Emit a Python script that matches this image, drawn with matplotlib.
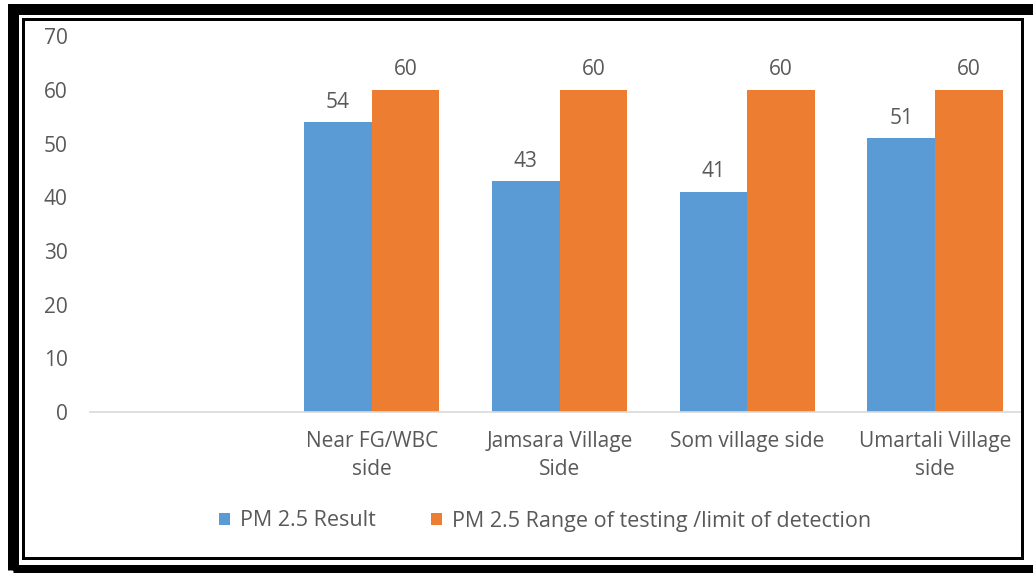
import matplotlib
matplotlib.use("Agg")
import matplotlib.pyplot as plt
from matplotlib.patches import Rectangle
import numpy as np

categories = ["", "Near FG/WBC\nside", "Jamsara Village\nSide", "Som village side", "Umartali Village\nside"]
pm25_result = [np.nan, 54, 43, 41, 51]
pm25_limit = [np.nan, 60, 60, 60, 60]
series_names = ["PM 2.5 Result", "PM 2.5 Range of testing /limit of detection"]
yticks = [0, 10, 20, 30, 40, 50, 60, 70]

W, H = 1033, 573
plt.rcParams['font.family'] = ['Open Sans', 'DejaVu Sans']
fig = plt.figure(figsize=(W / 100, H / 100), dpi=100)
fig.patch.set_facecolor("white")

def fx(x):
    return x / W

def fy(y):
    return 1 - y / H

ax = fig.add_axes([fx(90), fy(412), fx(1029) - fx(90), fy(36.5) - fy(412)])
x = np.arange(len(categories))
bw = 0.36
blue = "#5B9BD5"
orange = "#ED7D31"
gray = "#595959"
fs = 15
b1 = ax.bar(x - bw / 2, pm25_result, bw, color=blue, label=series_names[0])
b2 = ax.bar(x + bw / 2, pm25_limit, bw, color=orange, label=series_names[1])
for bars, vals in ((b1, pm25_result), (b2, pm25_limit)):
    for r, v in zip(bars, vals):
        if not np.isnan(v):
            ax.annotate(f"{v:g}", (r.get_x() + r.get_width() / 2, v), xytext=(0, 7),
                        textcoords="offset points", ha="center", va="bottom",
                        fontsize=fs, color=gray)

ax.set_xlim(-0.5, len(categories) - 0.5)
ax.set_ylim(0, 70)
ax.set_yticks(yticks)
ax.set_xticks(x)
ax.set_xticklabels(categories, fontsize=fs, color=gray, linespacing=1.4)
ax.tick_params(axis="y", length=0, pad=16, labelsize=fs, labelcolor=gray)
ax.tick_params(axis="x", length=0, pad=14)
for s in ("top", "right", "left"):
    ax.spines[s].set_visible(False)
ax.spines["bottom"].set_color("#D9D9D9")
ax.spines["bottom"].set_linewidth(1.2)
ax.set_facecolor("none")

leg = fig.legend(handles=[b1, b2], labels=series_names, loc="center",
                 bbox_to_anchor=(fx(545), fy(521)), ncol=2, frameon=False,
                 fontsize=15.5, handlelength=0.5, handleheight=0.5,
                 handletextpad=0.45, columnspacing=2.6)
for t in leg.get_texts():
    t.set_color(gray)

# frame
px = 0.72
fig.add_artist(Rectangle((fx(12.5), fy(570)), fx(1035) - fx(12.5), fy(8.5) - fy(570),
                         transform=fig.transFigure, fill=False, edgecolor="black",
                         linewidth=11 * px, zorder=10))
fig.add_artist(Rectangle((fx(22.5), fy(557.5)), fx(1022) - fx(22.5), fy(18.5) - fy(557.5),
                         transform=fig.transFigure, fill=False, edgecolor="black",
                         linewidth=3 * px, zorder=10))
fig.add_artist(Rectangle((fx(1023.5), fy(565)), fx(1030) - fx(1023.5), fy(14) - fy(565),
                         transform=fig.transFigure, facecolor="white", edgecolor="none",
                         zorder=9))

fig.savefig("out.png", dpi=100)
